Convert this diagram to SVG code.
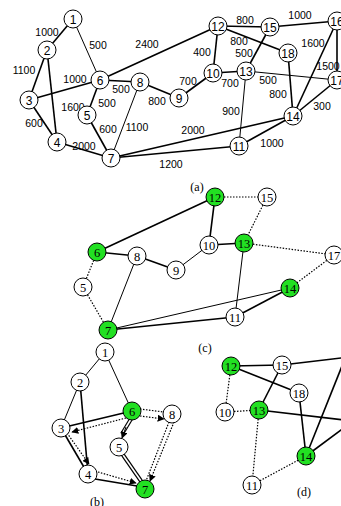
<svg xmlns="http://www.w3.org/2000/svg" width="341" height="506" viewBox="0 0 341 506">
<defs>
<style>
.e{stroke:#000;stroke-width:1.6;fill:none}
.t{stroke:#000;stroke-width:1;fill:none}
.d{stroke:#000;stroke-width:1.2;fill:none;stroke-dasharray:1.5 1.5}
.dbl{stroke:#000;stroke-width:4;fill:none}
.dbw{stroke:#fff;stroke-width:1.6;fill:none}
.n circle{fill:#fff;stroke:#000;stroke-width:1}
.g circle{fill:#22e022;stroke:#000;stroke-width:1}
.la{font-family:"Liberation Sans",Arial,sans-serif;font-size:12px;text-anchor:middle}
.ls{font-family:"Liberation Serif","Times New Roman",serif;font-size:12.5px;text-anchor:middle}
.w{font-family:"Liberation Sans",Arial,sans-serif;font-size:10.5px;text-anchor:middle}
.cap{font-family:"Liberation Serif","Times New Roman",serif;font-size:12px;text-anchor:middle}
</style>
<marker id="ah" viewBox="0 0 10 10" refX="9" refY="5" markerWidth="7" markerHeight="7" markerUnits="userSpaceOnUse" orient="auto">
<path d="M0,0 L10,5 L0,10 z" fill="#000"/>
</marker>
</defs>

<!-- connectors -->
<g id="connectors">
<!-- (a) -->
<g id="edges-a">
<line class="e" x1="73" y1="19" x2="47" y2="50"/>
<line class="t" x1="73" y1="19" x2="100" y2="80"/>
<line class="e" x1="47" y1="50" x2="29" y2="100"/>
<line class="e" x1="47" y1="50" x2="57" y2="142"/>
<line class="e" x1="29" y1="100" x2="57" y2="142"/>
<line class="e" x1="29" y1="100" x2="100" y2="80"/>
<line class="e" x1="100" y1="80" x2="87" y2="115"/>
<line class="e" x1="100" y1="80" x2="140" y2="82"/>
<line class="e" x1="100" y1="80" x2="218" y2="26"/>
<line class="e" x1="57" y1="142" x2="111" y2="158"/>
<line class="e" x1="87" y1="115" x2="111" y2="158"/>
<line class="t" x1="140" y1="82" x2="111" y2="158"/>
<line class="e" x1="140" y1="82" x2="179" y2="98"/>
<line class="e" x1="179" y1="98" x2="213" y2="73"/>
<line class="e" x1="213" y1="73" x2="218" y2="26"/>
<line class="e" x1="213" y1="73" x2="246" y2="71"/>
<line class="e" x1="218" y1="26" x2="270" y2="27"/>
<line class="e" x1="218" y1="26" x2="288" y2="53"/>
<line class="e" x1="246" y1="71" x2="270" y2="27"/>
<line class="t" x1="246" y1="71" x2="337" y2="80"/>
<line class="t" x1="246" y1="71" x2="239" y2="146"/>
<line class="e" x1="270" y1="27" x2="337" y2="21"/>
<line class="e" x1="337" y1="21" x2="293" y2="116"/>
<line class="e" x1="337" y1="21" x2="337" y2="80"/>
<line class="e" x1="288" y1="53" x2="293" y2="116"/>
<line class="e" x1="337" y1="80" x2="293" y2="116"/>
<line class="e" x1="111" y1="158" x2="293" y2="116"/>
<line class="e" x1="111" y1="158" x2="239" y2="146"/>
<line class="e" x1="239" y1="146" x2="293" y2="116"/>
</g>
<!-- (c) -->
<g id="edges-c">
<line class="e" x1="97" y1="252" x2="215" y2="197"/>
<line class="e" x1="97" y1="252" x2="137" y2="256"/>
<line class="e" x1="137" y1="256" x2="176" y2="270"/>
<line class="t" x1="176" y1="270" x2="209" y2="245"/>
<line class="e" x1="209" y1="245" x2="215" y2="197"/>
<line class="e" x1="209" y1="245" x2="244" y2="243"/>
<line class="t" x1="137" y1="256" x2="108" y2="330"/>
<line class="d" x1="97" y1="252" x2="83" y2="287"/>
<line class="d" x1="83" y1="287" x2="108" y2="330"/>
<line class="d" x1="215" y1="197" x2="267" y2="197"/>
<line class="d" x1="267" y1="197" x2="244" y2="243"/>
<line class="d" x1="244" y1="243" x2="334" y2="255"/>
<line class="d" x1="334" y1="255" x2="290" y2="288"/>
<line class="t" x1="244" y1="243" x2="235" y2="317"/>
<line class="t" x1="108" y1="330" x2="290" y2="288"/>
<line class="e" x1="108" y1="330" x2="235" y2="317"/>
<line class="e" x1="235" y1="317" x2="290" y2="288"/>
</g>
<!-- (b) -->
<g id="edges-b">
<line class="t" x1="105" y1="352" x2="80" y2="382"/>
<line class="t" x1="105" y1="352" x2="132" y2="411"/>
<line class="t" x1="80" y1="382" x2="61" y2="428"/>
<line class="e" x1="80" y1="382" x2="88" y2="474"/>
<line class="e" x1="61" y1="428" x2="88" y2="474"/>
<line class="d" x1="67" y1="433" x2="89" y2="464" marker-end="url(#ah)"/>
<line class="e" x1="132" y1="411" x2="61" y2="428"/>
<line class="d" x1="126" y1="418" x2="72" y2="432" marker-end="url(#ah)"/>
<line class="d" x1="140" y1="409" x2="164" y2="412"/>
<line class="d" x1="140" y1="416" x2="164" y2="419" marker-end="url(#ah)"/>
<line class="d" x1="169" y1="422" x2="146" y2="481"/>
<line class="d" x1="174" y1="422" x2="150" y2="481" marker-end="url(#ah)"/>
<line class="dbl" x1="131" y1="419" x2="122" y2="434"/>
<line class="dbw" x1="131" y1="419" x2="122" y2="434"/>
<line class="t" x1="126" y1="427" x2="122" y2="438" marker-end="url(#ah)"/>
<line class="dbl" x1="123" y1="455" x2="141" y2="481"/>
<line class="dbw" x1="123" y1="455" x2="141" y2="481"/>
<line class="e" x1="95" y1="479" x2="137" y2="486"/>
<line class="d" x1="98" y1="472" x2="136" y2="483" marker-end="url(#ah)"/>
</g>
<!-- (d) -->
<g id="edges-d">
<line class="e" x1="231" y1="366" x2="282" y2="365"/>
<line class="e" x1="231" y1="366" x2="299" y2="393"/>
<line class="e" x1="282" y1="365" x2="259" y2="410"/>
<line class="e" x1="299" y1="393" x2="306" y2="456"/>
<line class="e" x1="282" y1="365" x2="350" y2="357"/>
<line class="e" x1="306" y1="456" x2="346" y2="356"/>
<line class="e" x1="259" y1="410" x2="353" y2="421"/>
<line class="e" x1="306" y1="456" x2="353" y2="421"/>
<line class="d" x1="231" y1="366" x2="225" y2="412"/>
<line class="d" x1="225" y1="412" x2="259" y2="410"/>
<line class="d" x1="259" y1="410" x2="252" y2="485"/>
<line class="d" x1="252" y1="485" x2="306" y2="456"/>
</g>
</g>

<!-- edge weights (a) -->
<g id="weights">
<text class="w" x="47" y="36">1000</text>
<text class="w" x="98" y="49">500</text>
<text class="w" x="147" y="48">2400</text>
<text class="w" x="24" y="74">1100</text>
<text class="w" x="75" y="83">1000</text>
<text class="w" x="121" y="93">500</text>
<text class="w" x="73" y="111">1600</text>
<text class="w" x="107" y="107">500</text>
<text class="w" x="34" y="127">600</text>
<text class="w" x="108" y="133">600</text>
<text class="w" x="137" y="131">1100</text>
<text class="w" x="84" y="150">2000</text>
<text class="w" x="157" y="105">800</text>
<text class="w" x="188" y="85">700</text>
<text class="w" x="171" y="168">1200</text>
<text class="w" x="193" y="134">2000</text>
<text class="w" x="231" y="115">900</text>
<text class="w" x="272" y="147">1000</text>
<text class="w" x="322" y="110">300</text>
<text class="w" x="245" y="24">800</text>
<text class="w" x="300" y="19">1000</text>
<text class="w" x="239" y="45">800</text>
<text class="w" x="244" y="57">500</text>
<text class="w" x="202" y="56">400</text>
<text class="w" x="230" y="87">700</text>
<text class="w" x="268" y="84">500</text>
<text class="w" x="278" y="98">800</text>
<text class="w" x="313" y="47">1600</text>
<text class="w" x="328" y="70">1500</text>
</g>

<!-- nodes (a) -->
<g id="a1" class="n"><circle cx="73" cy="19" r="9"/><text class="la" x="73" y="23.5">1</text></g>
<g id="a2" class="n"><circle cx="47" cy="50" r="9"/><text class="la" x="47" y="54.5">2</text></g>
<g id="a3" class="n"><circle cx="29" cy="100" r="9"/><text class="la" x="29" y="104.5">3</text></g>
<g id="a4" class="n"><circle cx="57" cy="142" r="9"/><text class="la" x="57" y="146.5">4</text></g>
<g id="a5" class="n"><circle cx="87" cy="115" r="9"/><text class="la" x="87" y="119.5">5</text></g>
<g id="a6" class="n"><circle cx="100" cy="80" r="9"/><text class="la" x="100" y="84.5">6</text></g>
<g id="a7" class="n"><circle cx="111" cy="158" r="9"/><text class="la" x="111" y="162.5">7</text></g>
<g id="a8" class="n"><circle cx="140" cy="82" r="9"/><text class="la" x="140" y="86.5">8</text></g>
<g id="a9" class="n"><circle cx="179" cy="98" r="9"/><text class="la" x="179" y="102.5">9</text></g>
<g id="a10" class="n"><circle cx="213" cy="73" r="9"/><text class="la" x="213" y="77.5">10</text></g>
<g id="a11" class="n"><circle cx="239" cy="146" r="9"/><text class="la" x="239" y="150.5">11</text></g>
<g id="a12" class="n"><circle cx="218" cy="26" r="9"/><text class="la" x="218" y="30.5">12</text></g>
<g id="a13" class="n"><circle cx="246" cy="71" r="9"/><text class="la" x="246" y="75.5">13</text></g>
<g id="a14" class="n"><circle cx="293" cy="116" r="9"/><text class="la" x="293" y="120.5">14</text></g>
<g id="a15" class="n"><circle cx="270" cy="27" r="9"/><text class="la" x="270" y="31.5">15</text></g>
<g id="a16" class="n"><circle cx="337" cy="21" r="9"/><text class="la" x="337" y="25.5">16</text></g>
<g id="a17" class="n"><circle cx="337" cy="80" r="9"/><text class="la" x="337" y="84.5">17</text></g>
<g id="a18" class="n"><circle cx="288" cy="53" r="9"/><text class="la" x="288" y="57.5">18</text></g>

<!-- nodes (c) -->
<g id="c6" class="g"><circle cx="97" cy="252" r="9"/><text class="ls" x="97" y="256.5">6</text></g>
<g id="c8" class="n"><circle cx="137" cy="256" r="9"/><text class="ls" x="137" y="260.5">8</text></g>
<g id="c9" class="n"><circle cx="176" cy="270" r="9"/><text class="ls" x="176" y="274.5">9</text></g>
<g id="c5" class="n"><circle cx="83" cy="287" r="9"/><text class="ls" x="83" y="291.5">5</text></g>
<g id="c7" class="g"><circle cx="108" cy="330" r="9"/><text class="ls" x="108" y="334.5">7</text></g>
<g id="c12" class="g"><circle cx="215" cy="197" r="9"/><text class="ls" x="215" y="201.5">12</text></g>
<g id="c15" class="n"><circle cx="267" cy="197" r="9"/><text class="ls" x="267" y="201.5">15</text></g>
<g id="c10" class="n"><circle cx="209" cy="245" r="9"/><text class="ls" x="209" y="249.5">10</text></g>
<g id="c13" class="g"><circle cx="244" cy="243" r="9"/><text class="ls" x="244" y="247.5">13</text></g>
<g id="c17" class="n"><circle cx="334" cy="255" r="9"/><text class="ls" x="334" y="259.5">17</text></g>
<g id="c14" class="g"><circle cx="290" cy="288" r="9"/><text class="ls" x="290" y="292.5">14</text></g>
<g id="c11" class="n"><circle cx="235" cy="317" r="9"/><text class="ls" x="235" y="321.5">11</text></g>

<!-- nodes (b) -->
<g id="b1" class="n"><circle cx="105" cy="352" r="9"/><text class="ls" x="105" y="356.5">1</text></g>
<g id="b2" class="n"><circle cx="80" cy="382" r="9"/><text class="ls" x="80" y="386.5">2</text></g>
<g id="b3" class="n"><circle cx="61" cy="428" r="9"/><text class="ls" x="61" y="432.5">3</text></g>
<g id="b4" class="n"><circle cx="88" cy="474" r="9"/><text class="ls" x="88" y="478.5">4</text></g>
<g id="b5" class="n"><circle cx="119" cy="447" r="9"/><text class="ls" x="119" y="451.5">5</text></g>
<g id="b6" class="g"><circle cx="132" cy="411" r="9"/><text class="ls" x="132" y="415.5">6</text></g>
<g id="b7" class="g"><circle cx="145" cy="489" r="9"/><text class="ls" x="145" y="493.5">7</text></g>
<g id="b8" class="n"><circle cx="172" cy="414" r="9"/><text class="ls" x="172" y="418.5">8</text></g>

<!-- nodes (d) -->
<g id="d12" class="g"><circle cx="231" cy="366" r="9"/><text class="ls" x="231" y="370.5">12</text></g>
<g id="d15" class="n"><circle cx="282" cy="365" r="9"/><text class="ls" x="282" y="369.5">15</text></g>
<g id="d18" class="n"><circle cx="299" cy="393" r="9"/><text class="ls" x="299" y="397.5">18</text></g>
<g id="d10" class="n"><circle cx="225" cy="412" r="9"/><text class="ls" x="225" y="416.5">10</text></g>
<g id="d13" class="g"><circle cx="259" cy="410" r="9"/><text class="ls" x="259" y="414.5">13</text></g>
<g id="d14" class="g"><circle cx="306" cy="456" r="9"/><text class="ls" x="306" y="460.5">14</text></g>
<g id="d11" class="n"><circle cx="252" cy="485" r="9"/><text class="ls" x="252" y="489.5">11</text></g>

<!-- captions -->
<text class="cap" x="197" y="191">(a)</text>
<text class="cap" x="205" y="352">(c)</text>
<text class="cap" x="97" y="506">(b)</text>
<text class="cap" x="304" y="496">(d)</text>
</svg>
